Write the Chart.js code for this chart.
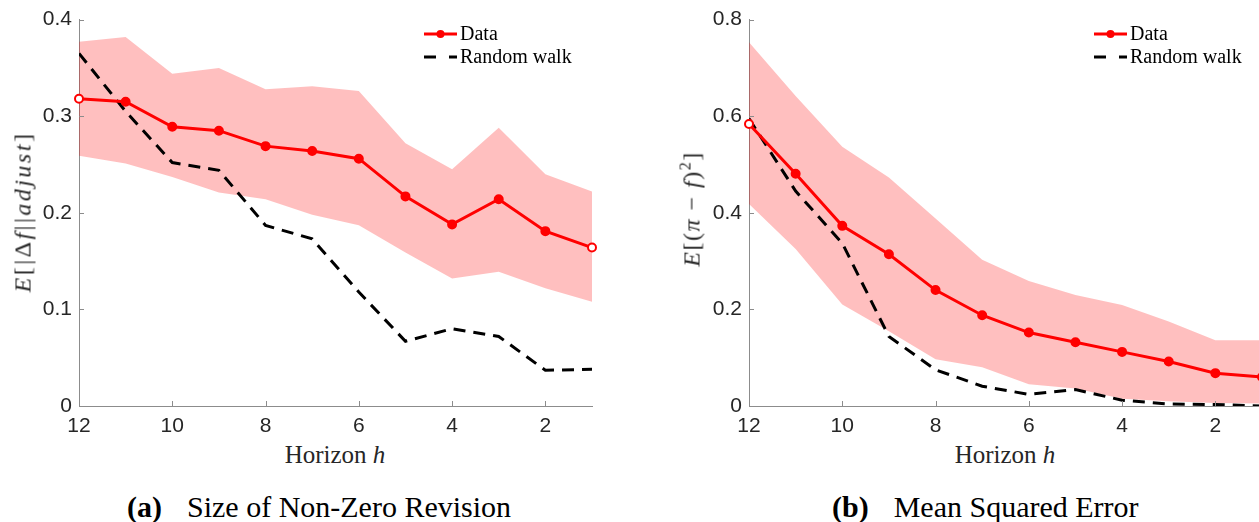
<!DOCTYPE html>
<html>
<head>
<meta charset="utf-8">
<script src="https://cdn.jsdelivr.net/npm/chart.js@4.4.0/dist/chart.umd.min.js"></script>
<style>
    body {
        margin: 0;
        width: 1259px;
        height: 522px;
        overflow: hidden;
        position: relative;
        background: #fff;
        font-family: "Liberation Serif", "DejaVu Serif", serif;
        color: #262626;
    }
    canvas { position: absolute; top: 0; }
    .texto { position: absolute; white-space: nowrap; }
    .ytitulo { font-size: 24px; letter-spacing: 1.5px; transform: translate(-50%, -50%) rotate(-90deg); }
    .xtitulo { font-size: 25px; transform: translate(-50%, -50%); }
    .caption { font-size: 30px; color: #000; transform: translateY(-50%); }
    .caption b { margin-right: 25px; }
</style>
</head>
<body>
<canvas id="chartA" width="620" height="440" style="left:0px"></canvas>
<canvas id="chartB" width="620" height="440" style="left:670px"></canvas>

<div class="texto ytitulo" style="left:23px; top:212px; letter-spacing:2.5px"><i>E</i>[|Δ<i>f</i>||<i>adjust</i>]</div>
<div class="texto ytitulo" style="left:691px; top:209px"><i>E</i>[(<i>π</i> − <i>f</i>)<sup style="font-size:16px">2</sup>]</div>
<div class="texto xtitulo" style="left:335px; top:455px">Horizon <i>h</i></div>
<div class="texto xtitulo" style="left:1005px; top:455px">Horizon <i>h</i></div>
<div class="texto caption" style="left:127px; top:507px"><b>(a)</b>Size of Non-Zero Revision</div>
<div class="texto caption" style="left:832px; top:507px"><b>(b)</b>Mean Squared Error</div>

<script>
// Horizonte (eje x invertido, de 12 a 1)
const horizonte = [12, 11, 10, 9, 8, 7, 6, 5, 4, 3, 2, 1];
const ticksX = [12, 10, 8, 6, 4, 2];

// (a) Size of Non-Zero Revision
const revData  = [0.318, 0.315, 0.289, 0.285, 0.269, 0.264, 0.256, 0.217, 0.188, 0.214, 0.181, 0.164];
const revUpper = [0.377, 0.382, 0.344, 0.350, 0.328, 0.331, 0.326, 0.272, 0.245, 0.288, 0.240, 0.222];
const revLower = [0.259, 0.251, 0.237, 0.221, 0.214, 0.198, 0.187, 0.159, 0.132, 0.139, 0.122, 0.108];
const revRW    = [0.365, 0.305, 0.252, 0.244, 0.187, 0.173, 0.118, 0.067, 0.080, 0.072, 0.037, 0.038];
const ticksYa  = [0, 0.1, 0.2, 0.3, 0.4];

// (b) Mean Squared Error
const mseData  = [0.584, 0.481, 0.373, 0.314, 0.240, 0.188, 0.152, 0.132, 0.112, 0.092, 0.068, 0.060];
const mseUpper = [0.753, 0.642, 0.537, 0.473, 0.388, 0.303, 0.259, 0.230, 0.209, 0.175, 0.136, 0.136];
const mseLower = [0.418, 0.325, 0.210, 0.155, 0.097, 0.080, 0.045, 0.036, 0.015, 0.010, 0.006, 0.005];
const mseRW    = [0.595, 0.445, 0.337, 0.144, 0.075, 0.041, 0.024, 0.034, 0.012, 0.004, 0.003, 0.000];
const ticksYb  = [0, 0.2, 0.4, 0.6, 0.8];

const ROJO = 'rgb(255, 0, 0)';
const BANDA = 'rgba(255, 0, 0, 0.25)';
const GRIS = '#8c8c8c';
const FUENTE_SERIF = '"Liberation Serif", "Times New Roman", serif';

function puntos(valores) {
    return horizonte.map((h, i) => ({ x: h, y: valores[i] }));
}

// Marcas de los ticks hacia dentro, como en MATLAB
const ticksInternos = {
    id: 'ticksInternos',
    afterDraw(chart) {
        const { ctx, chartArea, scales } = chart;
        ctx.save();
        ctx.strokeStyle = GRIS;
        ctx.lineWidth = 1;
        ctx.beginPath();
        scales.x.ticks.forEach(t => {
            const px = Math.round(scales.x.getPixelForValue(t.value)) + 0.5;
            ctx.moveTo(px, chartArea.bottom);
            ctx.lineTo(px, chartArea.bottom - 5);
        });
        scales.y.ticks.forEach(t => {
            const py = Math.round(scales.y.getPixelForValue(t.value)) + 0.5;
            ctx.moveTo(chartArea.left, py);
            ctx.lineTo(chartArea.left + 5, py);
        });
        ctx.stroke();
        ctx.restore();
    }
};

// Leyenda dibujada a mano (línea con marcador)
const leyenda = {
    id: 'leyenda',
    afterDraw(chart) {
        const ctx = chart.ctx;
        const x0 = 424, x1 = 457;
        ctx.save();
        ctx.lineWidth = 3;
        ctx.strokeStyle = ROJO;
        ctx.beginPath();
        ctx.moveTo(x0, 34);
        ctx.lineTo(x1, 34);
        ctx.stroke();
        ctx.fillStyle = ROJO;
        ctx.beginPath();
        ctx.arc((x0 + x1) / 2, 34, 4, 0, Math.PI * 2);
        ctx.fill();

        ctx.strokeStyle = '#000';
        ctx.setLineDash([12, 13]);
        ctx.beginPath();
        ctx.moveTo(x0, 57);
        ctx.lineTo(x1, 57);
        ctx.stroke();
        ctx.setLineDash([]);

        ctx.fillStyle = '#000';
        ctx.font = '20px ' + FUENTE_SERIF;
        ctx.textBaseline = 'alphabetic';
        ctx.fillText('Data', 460, 40);
        ctx.fillText('Random walk', 460, 63);
        ctx.restore();
    }
};

function crearGrafico(id, datos, superior, inferior, rw, yMax, ticksY) {
    const ctx = document.getElementById(id).getContext('2d');
    const n = datos.length;
    const fondoPuntos = datos.map((v, i) => (i === 0 || i === n - 1) ? '#fff' : ROJO);

    return new Chart(ctx, {
        type: 'line',
        data: {
            datasets: [
                {
                    label: 'upper',
                    data: puntos(superior),
                    borderWidth: 0,
                    pointRadius: 0,
                    backgroundColor: BANDA,
                    fill: '+1',
                    order: 3
                },
                {
                    label: 'lower',
                    data: puntos(inferior),
                    borderWidth: 0,
                    pointRadius: 0,
                    fill: false,
                    order: 3
                },
                {
                    label: 'Random walk',
                    data: puntos(rw),
                    borderColor: '#000',
                    borderWidth: 3,
                    borderDash: [12, 8],
                    pointRadius: 0,
                    fill: false,
                    order: 2
                },
                {
                    label: 'Data',
                    data: puntos(datos),
                    borderColor: ROJO,
                    borderWidth: 3,
                    pointRadius: 4,
                    pointBorderWidth: 2,
                    pointBorderColor: ROJO,
                    pointBackgroundColor: fondoPuntos,
                    fill: false,
                    clip: false,
                    order: 1
                }
            ]
        },
        options: {
            responsive: false,
            animation: false,
            layout: { padding: { top: 12, right: 28, left: 0, bottom: 0 } },
            plugins: {
                legend: { display: false },
                tooltip: { enabled: false }
            },
            scales: {
                x: {
                    type: 'linear',
                    reverse: true,
                    min: 1,
                    max: 12,
                    afterBuildTicks: axis => { axis.ticks = ticksX.map(v => ({ value: v })); },
                    afterFit: axis => { axis.height = 34; },
                    grid: { display: false, drawTicks: false },
                    border: { color: GRIS, width: 1 },
                    ticks: {
                        color: '#262626',
                        padding: 8,
                        maxRotation: 0,
                        font: { family: '"Liberation Sans"', size: 21 }
                    }
                },
                y: {
                    min: 0,
                    max: yMax,
                    afterBuildTicks: axis => { axis.ticks = ticksY.map(v => ({ value: v })); },
                    afterFit: axis => { axis.width = 79; },
                    grid: { display: false, drawTicks: false },
                    border: { color: GRIS, width: 1 },
                    ticks: {
                        color: '#262626',
                        padding: 7,
                        font: { family: '"Liberation Sans"', size: 21 },
                        callback: v => String(v)
                    }
                }
            }
        },
        plugins: [ticksInternos, leyenda]
    });
}

crearGrafico('chartA', revData, revUpper, revLower, revRW, 0.4, ticksYa);
crearGrafico('chartB', mseData, mseUpper, mseLower, mseRW, 0.8, ticksYb);
</script>
</body>
</html>
